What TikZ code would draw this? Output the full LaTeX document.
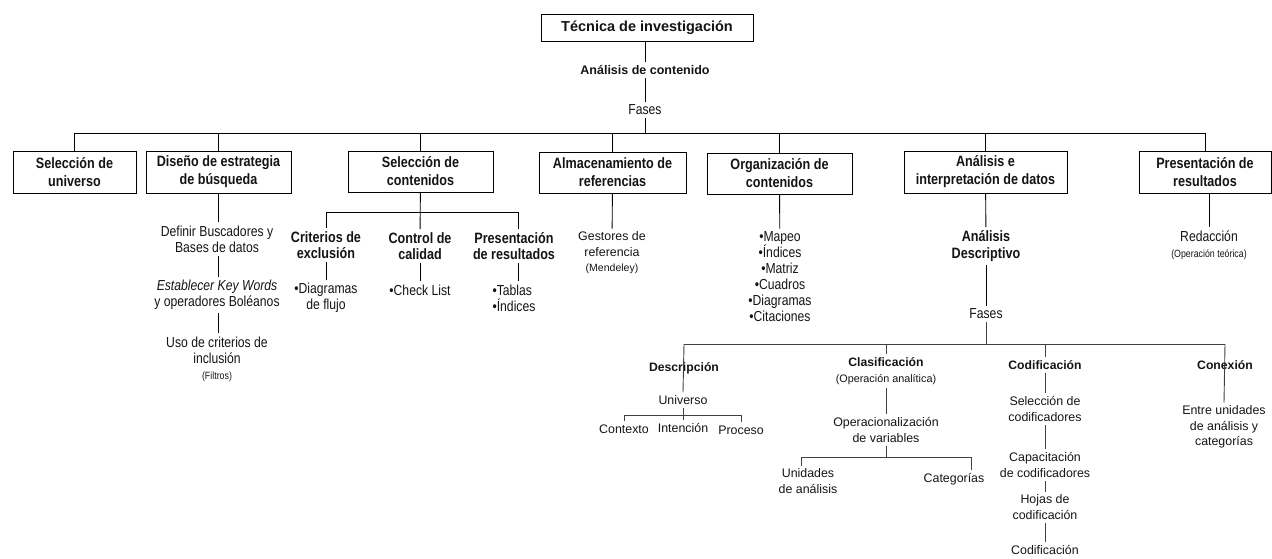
\documentclass[tikz,border=0pt]{standalone}
\usepackage{fontspec}
\setmainfont{Liberation Sans}
\newfontfamily\nar{Liberation Sans}[FakeStretch=0.84]
\begin{document}
\begin{tikzpicture}[x=1pt,y=-1pt,
  every node/.style={align=center, inner sep=3pt, text=black!92},
  box/.style={draw, line width=0.9pt, inner sep=0pt,
    font=\nar\bfseries\fontsize{15}{18}\selectfont},
  title/.style={draw, line width=0.9pt, inner sep=0pt,
    font=\bfseries\fontsize{14.5}{17}\selectfont},
  lbl/.style={font=\nar\fontsize{14.5}{16}\selectfont},
  lblb/.style={font=\nar\bfseries\fontsize{15}{16.5}\selectfont},
  txt/.style={font=\fontsize{12.4}{15.5}\selectfont},
  txtb/.style={font=\bfseries\fontsize{12.2}{15.5}\selectfont},
  wire/.style={line width=0.9pt, draw=black},
  wireg/.style={line width=0.9pt, draw=black!75}]
\newcommand{\smalltxt}{\nar\fontsize{10.5}{12}\selectfont}
\useasboundingbox (0,0) rectangle (1272,559);

% --- trunk ---
\node[title, minimum width=212, minimum height=27] (T) at (647,27.5) {Técnica de investigación};
\node[font=\bfseries\fontsize{12.5}{15}\selectfont] (A) at (645,70) {Análisis de contenido};
\node[lbl] (F) at (645,110) {Fases};
\coordinate (bus) at (0,133);
\draw[wire] (T.south -| A) -- (A.north);
\draw[wire] (A) -- (F);

% --- phases ---
\node[box, minimum width=123, minimum height=42] (B1) at (74.5,172) {Selección de\\universo};
\node[box, minimum width=145, minimum height=42] (B2) at (218.5,172) {Diseño de estrategia\\de búsqueda};
\node[box, minimum width=145, minimum height=41] (B3) at (420.5,171.5) {Selección de\\contenidos};
\node[box, minimum width=147, minimum height=41] (B4) at (612.5,172.5) {Almacenamiento de\\referencias};
\node[box, minimum width=145, minimum height=41] (B5) at (779.5,173.5) {Organización de\\contenidos};
\node[box, minimum width=163, minimum height=42] (B6) at (985.5,172) {Análisis e\\interpretación de datos};
\node[box, minimum width=132, minimum height=42] (B7) at (1205,172) {Presentación de\\resultados};

\draw[wire] (F.south) -- (F.south |- bus);
\draw[wire] (B1.north) -- (B1.north |- bus) -- (B7.north |- bus) -- (B7.north);
\foreach \b in {B2,B3,B4,B5,B6} \draw[wire] (\b.north) -- (\b.north |- bus);

% --- search strategy ---
\node[lbl] (D1) at (217,239) {Definir Buscadores y\\Bases de datos};
\node[lbl] (D2) at (217,295) {\textit{Establecer Key Words}\\y operadores Boléanos};
\node[lbl] (D3) at (217,359) {Uso de criterios de\\inclusión\\{\smalltxt(Filtros)}};
\draw[wire] (B2.south) -- (B2.south |- D1.north);
\draw[wire] (D1.south -| B2) -- (D2.north -| B2);
\draw[wire] (D2.south -| B2) -- (D3.north -| B2);

% --- content selection ---
\coordinate (sb1) at (0,212);
\node[lblb] (C1) at (326,245) {Criterios de\\exclusión};
\node[lblb] (C2) at (420,246) {Control de\\calidad};
\node[lblb] (C3) at (514,246) {Presentación\\de resultados};
\node[lbl] (C1a) at (326,298) {•Diagramas\\de flujo};
\node[lbl] (C2a) at (420,290) {•Check List};
\node[lbl, align=left] (C3a) at (514,298) {•Tablas\\•Índices};
\draw[wire] (B3) -- (C2);
\draw[wire] (C1.north) -- (C1.north |- sb1) -- ([xshift=4pt]C3.north |- sb1) -- ([xshift=4pt]C3.north);
\draw[wire] (C1) -- (C1a);
\draw[wire] (C2) -- (C2a);
\draw[wire] ([xshift=4pt]C3.south) -- ([xshift=4pt]C3a.north);

% --- references ---
\node[txt] (G) at (612,253) {Gestores de\\referencia\\{\fontsize{10.5}{12}\selectfont(Mendeley)}};
\draw[wire] (B4) -- (G);

% --- organisation ---
\node[lbl] (M) at (780,277) {•Mapeo\\•Índices\\•Matriz\\•Cuadros\\•Diagramas\\•Citaciones};
\draw[wire] (B5) -- (M);

% --- results ---
\node[lbl] (R) at (1209,245) {Redacción\\{\smalltxt(Operación teórica)}};
\draw[wire] (B7.south -| R) -- (R);

% --- analysis ---
\node[lblb, font=\nar\bfseries\fontsize{15}{17}\selectfont] (AD) at (986,246) {Análisis\\Descriptivo};
\node[lbl] (F2) at (986,314) {Fases};
\coordinate (bus2) at (0,344);
\draw[wire] (B6) -- (AD);
\draw[wire] (AD) -- (F2);
\draw[wireg] (F2.south) -- (F2.south |- bus2);

\node[txtb] (DS) at (684,368) {Descripción};
\node[txtb] (CL) at (886,371) {Clasificación\\{\fontsize{10.8}{12}\selectfont\mdseries(Operación analítica)}};
\node[txtb] (CO) at (1045,365) {Codificación};
\node[txtb] (CN) at (1225,365) {Conexión};
\draw[wireg] (DS.north |- bus2) -- (CN.north |- bus2);
\draw[wireg] (CL.north |- bus2) -- (CL.north);
\draw[wireg] (CO.north |- bus2) -- (CO.north);

% description
\node[txt] (U) at (683,400) {Universo};
\coordinate (sb3) at (0,415);
\node[txt] (X1) at (624,429) {Contexto};
\node[txt] (X2) at (683,428) {Intención};
\node[txt] (X3) at (741,430) {Proceso};
\draw[wireg] (DS.north |- bus2) -- (U.north);
\draw[wireg] (U) -- (X2);
\draw[wireg] (X1.north) -- (X1.north |- sb3) -- (X3.north |- sb3) -- (X3.north);

% classification
\node[txt] (OP) at (886,430) {Operacionalización\\de variables};
\coordinate (sb4) at (0,457);
\node[txt] (UA) at (808,481) {Unidades\\de análisis};
\node[txt] (CT) at (954,479) {Categorías};
\draw[wireg] (CL) -- (OP);
\draw[wireg] (OP.south) -- (OP.south |- sb4);
\draw[wireg] ([xshift=-7pt]UA.north) -- ([xshift=-7pt]UA.north |- sb4)
  -- ([xshift=17pt]CT.north |- sb4) -- ([xshift=17pt]CT.north);

% coding
\node[txt] (S1) at (1045,409) {Selección de\\codificadores};
\node[txt] (S2) at (1045,465) {Capacitación\\de codificadores};
\node[txt] (S3) at (1045,507) {Hojas de\\codificación};
\node[txt] (S4) at (1045,550) {Codificación};
\draw[wireg] (CO) -- (S1);
\draw[wireg] (S1) -- (S2);
\draw[wireg] (S2) -- (S3);
\draw[wireg] (S3) -- (S4);

% connection
\node[txt] (E) at (1224,427) {Entre unidades\\de análisis y\\categorías};
\draw[wireg] (CN.north |- bus2) -- (E.north);
\end{tikzpicture}
\end{document}
